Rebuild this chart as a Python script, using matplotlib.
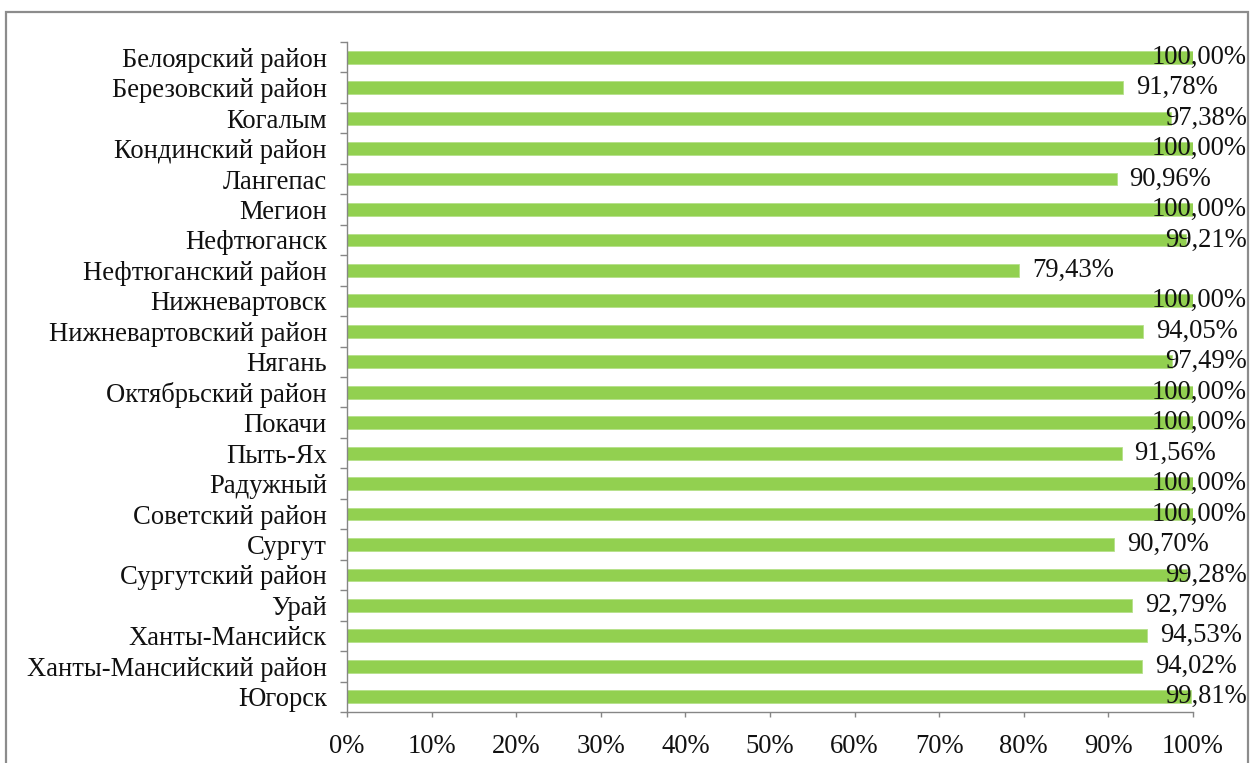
import matplotlib
matplotlib.use("Agg")
import matplotlib.pyplot as plt
from matplotlib.patches import Rectangle
from matplotlib.ticker import FixedLocator

districts = [
    "Белоярский район", "Березовский район", "Когалым", "Кондинский район",
    "Лангепас", "Мегион", "Нефтюганск", "Нефтюганский район", "Нижневартовск",
    "Нижневартовский район", "Нягань", "Октябрьский район", "Покачи", "Пыть-Ях",
    "Радужный", "Советский район", "Сургут", "Сургутский район", "Урай",
    "Ханты-Мансийск", "Ханты-Мансийский район", "Югорск",
]
shares = [
    100.00, 91.78, 97.38, 100.00, 90.96, 100.00, 99.21, 79.43, 100.00, 94.05,
    97.49, 100.00, 100.00, 91.56, 100.00, 100.00, 90.70, 99.28, 92.79, 94.53,
    94.02, 99.81,
]
x_ticks = list(range(0, 101, 10))

plt.rcParams["font.family"] = ["Liberation Serif", "DejaVu Serif"]
W, H = 1252, 763
fig = plt.figure(figsize=(W / 100, H / 100), dpi=100)
fig.patch.set_facecolor("white")

FS = 19.2
TXT = "#111111"

# outer chart frame
fig.patches.append(Rectangle((6 / W, -0.05), (1248 - 6) / W, 1.05 - 12 / H,
                             transform=fig.transFigure, fill=False,
                             edgecolor="#8c8c8c", linewidth=1.6))

ax = fig.add_axes([347 / W, 51 / H, (1193 - 347) / W, (712 - 42) / H])
n = len(districts)
pos = list(range(n))
ax.barh(pos, shares, height=0.42, color="#92D050", edgecolor="#b5e08a",
        linewidth=0.6, zorder=2)
ax.set_ylim(n - 0.5, -0.5)
ax.set_xlim(0, 100)

axis_col = "#868686"
for s in ["top", "right"]:
    ax.spines[s].set_visible(False)
for s in ["left", "bottom"]:
    ax.spines[s].set_color(axis_col)
    ax.spines[s].set_linewidth(1.0)

ax.set_xticks(x_ticks)
ax.set_xticklabels([f"{t}%" for t in x_ticks], fontsize=FS, color=TXT)
ax.set_yticks(pos)
ax.set_yticklabels(districts, fontsize=FS, color=TXT)
ax.tick_params(axis="y", length=0, pad=14.5)
ax.yaxis.set_minor_locator(FixedLocator([p - 0.5 for p in pos] + [n - 0.5]))
ax.tick_params(axis="y", which="minor", length=5, color=axis_col, width=1.0)
ax.tick_params(axis="x", length=3.5, color=axis_col, width=1.0, pad=12)

labels = []
for p, v in zip(pos, shares):
    t = ax.annotate(f"{v:.2f}%".replace(".", ","), xy=(v, p),
                    xytext=(13, 0), textcoords="offset pixels",
                    ha="left", va="center", fontsize=FS, color=TXT,
                    zorder=3, annotation_clip=False)
    labels.append(t)

# keep value labels inside the chart frame
fig.canvas.draw()
renderer = fig.canvas.get_renderer()
right_limit = 1247
for t in labels:
    bb = t.get_window_extent(renderer)
    if bb.x1 > right_limit:
        t.xyann = (13 - (bb.x1 - right_limit), 0)

fig.savefig("out.png", dpi=100, facecolor="white")
